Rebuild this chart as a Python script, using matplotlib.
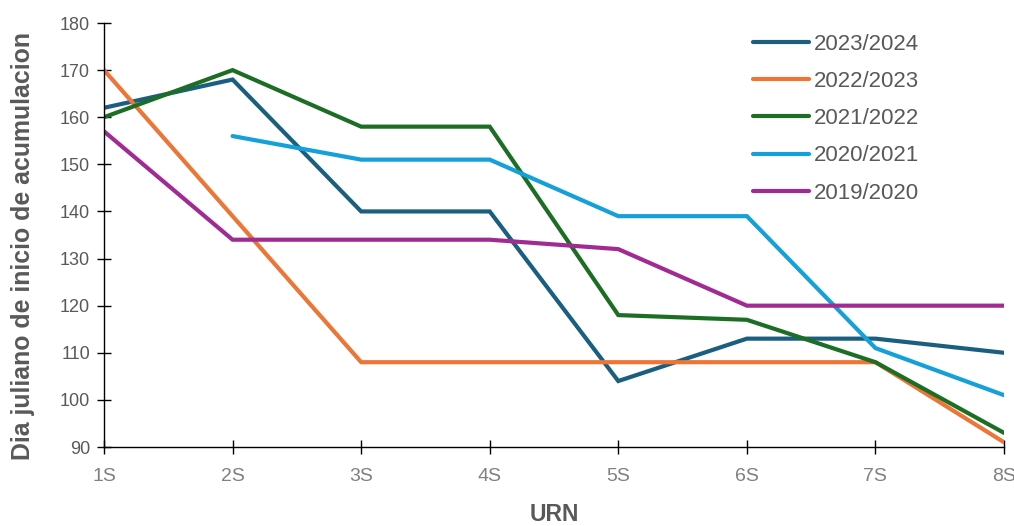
import matplotlib
matplotlib.use("Agg")
import matplotlib.pyplot as plt
import numpy as np

plt.rcParams['font.family'] = ['Liberation Sans', 'DejaVu Sans']

categories = ["1S", "2S", "3S", "4S", "5S", "6S", "7S", "8S"]
series_names = ["2023/2024", "2022/2023", "2021/2022", "2020/2021", "2019/2020"]
s2023 = [162, 168, 140, 140, 104, 113, 113, 110]
s2022 = [170, 139, 108, 108, 108, 108, 108, 91]
s2021 = [160, 170, 158, 158, 118, 117, 108, 93]
s2020 = [np.nan, 156, 151, 151, 139, 139, 111, 101]
s2019 = [157, 134, 134, 134, 132, 120, 120, 120]
colors = ["#1a5e80", "#ed7535", "#1d6e25", "#14a0d9", "#a02b93"]
yticks = list(range(90, 181, 10))

fig = plt.figure(figsize=(10.14, 5.26), dpi=100)
ax = fig.add_axes([104/1014, 1-447/526, 900/1014, 424/526])
x = np.arange(len(categories))
for name, vals, c in zip(series_names, [s2023, s2022, s2021, s2020, s2019], colors):
    ax.plot(x, vals, color=c, lw=3.0, label=name, solid_capstyle="round", solid_joinstyle="miter")

grey = "#595959"
ax.set_xlim(0, len(categories) - 1)
ax.set_ylim(90, 180)
ax.set_xticks(x)
ax.set_xticklabels(categories)
ax.set_yticks(yticks)
for s in ["top", "right"]:
    ax.spines[s].set_visible(False)
for s in ["left", "bottom"]:
    ax.spines[s].set_color("black")
    ax.spines[s].set_linewidth(1.0)
ax.tick_params(axis="both", direction="inout", length=10, width=1.0, colors="black")
ax.tick_params(axis="x", pad=10, labelsize=14, labelcolor="#808080")
ax.tick_params(axis="y", pad=5, labelsize=13, labelcolor=grey)
ax.set_xlabel("URN", fontsize=16.5, fontweight="bold", color=grey)
ax.xaxis.set_label_coords(0.5 + (554 - 554) / 900, (447 - 503) / 424)
ax.set_ylabel("Dia juliano de inicio de acumulacion", fontsize=17.9, fontweight="bold",
              color=grey)
ax.yaxis.set_label_coords((35 - 104) / 900, (447 - 246) / 424)
leg = ax.legend(loc="upper right", frameon=False,
                fontsize=16, handlelength=2.5, handletextpad=0.25, labelspacing=0.73,
                borderaxespad=0.0, borderpad=0.3)
leg.set_bbox_to_anchor((926/1014, 1 - 27/526), transform=fig.transFigure)
for t in leg.get_texts():
    t.set_color(grey)
fig.savefig("out.png", dpi=100)
